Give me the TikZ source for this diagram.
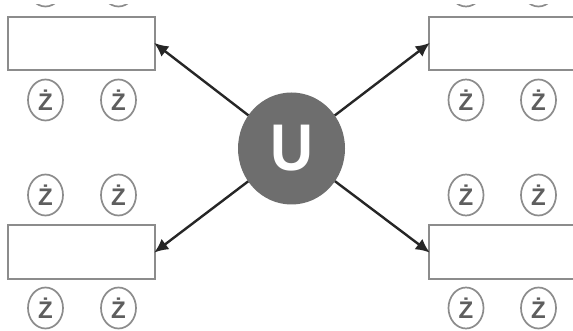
\documentclass[tikz,border=0pt]{standalone}
\usepackage{fontspec}
\setmainfont{Liberation Sans}
\usetikzlibrary{shapes.geometric,arrows.meta}
\definecolor{hubgray}{HTML}{6E6E6E}
\definecolor{edgegray}{HTML}{8C8C8C}
\definecolor{tokgray}{HTML}{5E5E5E}
\tikzset{
  boxnode/.style={draw=edgegray,line width=2pt,fill=white,minimum width=147pt,minimum height=53pt,inner sep=0pt,outer sep=0pt},
  token/.style={ellipse,draw=edgegray,line width=1.7pt,minimum width=35pt,minimum height=41pt,inner sep=0pt,text=tokgray,font=\fontsize{24}{24}\selectfont\bfseries},
  hub/.style={ellipse,fill=hubgray,minimum width=107pt,minimum height=112pt,inner sep=0pt,outer sep=0pt,text=white,font=\fontsize{66}{66}\selectfont\bfseries},
  link/.style={draw=black!85,line width=2.4pt,-{Latex[length=14pt,width=13pt]},shorten >=-1pt}
}
\begin{document}
\begin{tikzpicture}[x=1pt,y=-1pt]
\useasboundingbox (0,0) rectangle (573,331);
\clip (0,0) rectangle (573,331);
\fill[white] (0,0) rectangle (573,331);
\node[boxnode] (tl) at (81.5,43.5) {};
\node[boxnode] (bl) at (81.5,252) {};
\node[boxnode] (tr) at (502.5,43.5) {};
\node[boxnode] (br) at (502.5,252) {};
\node[hub] (u) at (291.5,148.5) {\scalebox{0.9}[1]{U}};
\begin{scope}
  \clip (0,5) rectangle (573,20);
  \foreach \n/\x in {a/45.5,b/118.5,c/466,d/538.5}
    \node[token] (\n) at (\x,-14) {};
\end{scope}
\foreach \n/\x/\y in {e/45.5/100,f/118.5/100,g/466/100,h/538.5/100,
  i/45.5/195,j/118.5/195,k/466/195,l/538.5/195,
  m/45.5/308,n/118.5/308,o/466/308,p/538.5/308}
  \node[token] (\n) at (\x,\y) {Ż};
\draw[link] (u) -- (tl.east);
\draw[link] (u) -- (bl.east);
\draw[link] (u) -- (tr.west);
\draw[link] (u) -- (br.west);
\end{tikzpicture}
\end{document}
